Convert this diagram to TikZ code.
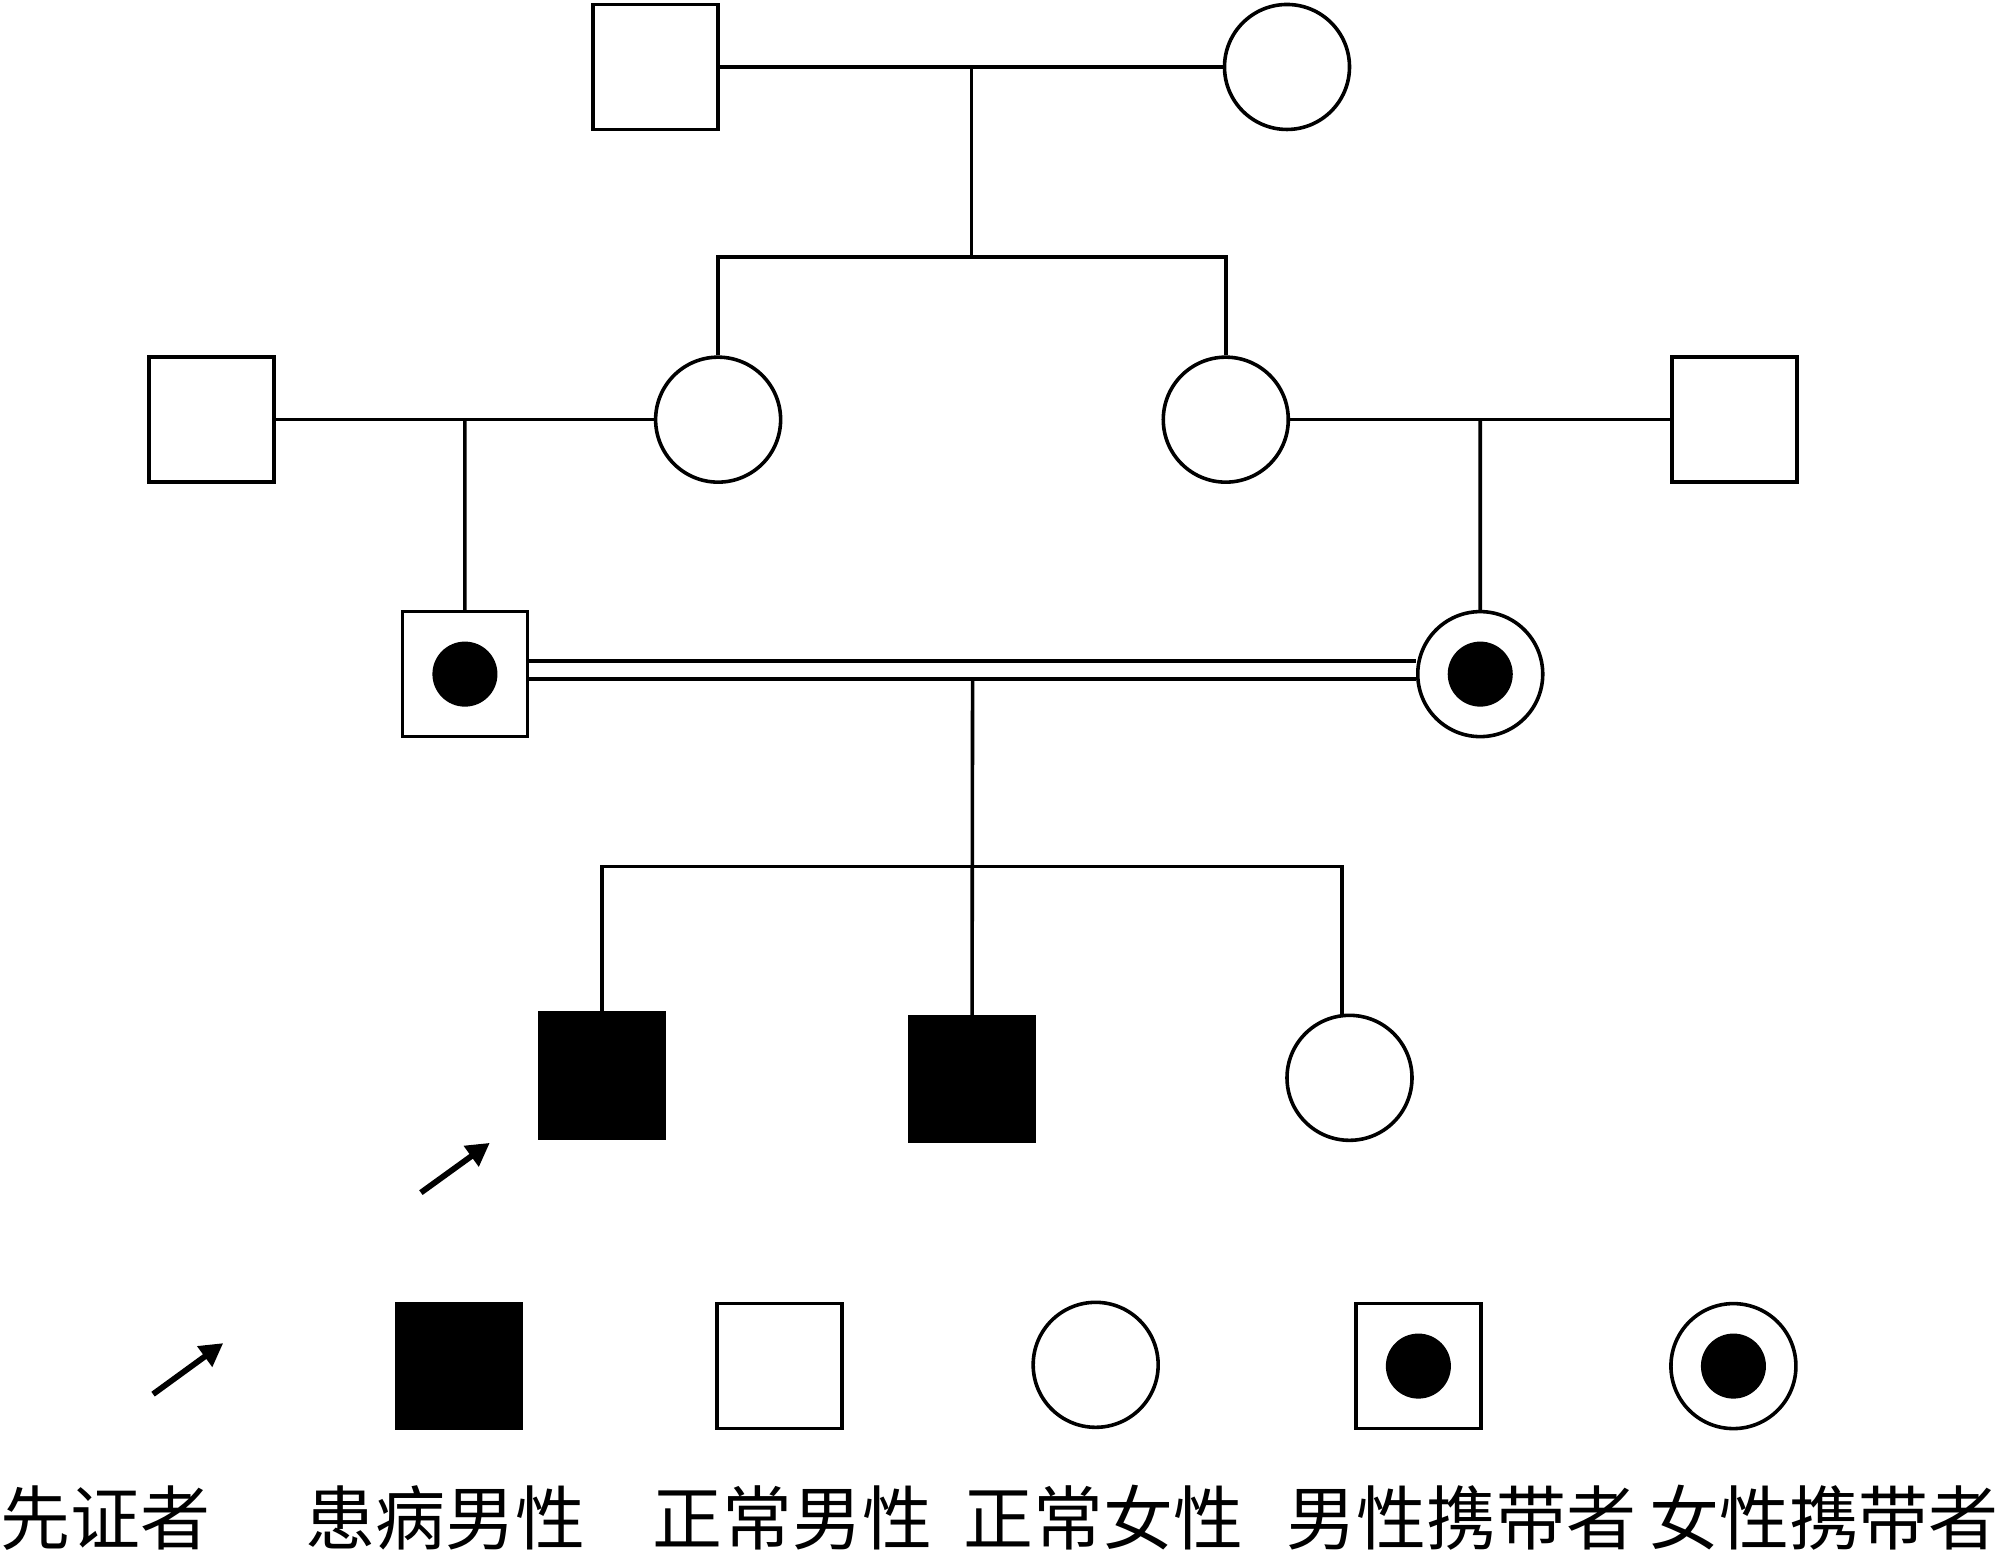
\documentclass[tikz,border=0pt]{standalone}
\usepackage{fontspec}
\newfontfamily\cjk{Noto Sans CJK SC}
\usetikzlibrary{arrows.meta,positioning,calc}

\begin{document}
\begin{tikzpicture}[
  male/.style={draw, rectangle, minimum size=0.98cm, inner sep=0pt, line width=0.8pt},
  female/.style={draw, circle, minimum size=0.98cm, inner sep=0pt, line width=0.8pt},
  aff/.style={fill=black},
  car/.style={path picture={\fill (path picture bounding box.center) circle (0.255);}},
  ln/.style={line width=0.8pt},
  arr/.style={-{Triangle[length=1.8mm, width=1.9mm]}, line width=1.3pt},
  lbl/.style={font=\cjk\fontsize{15.6}{18}\selectfont, inner sep=0pt}]
\useasboundingbox (0,0) rectangle (15.68,-12.18);

% ── generation I ──
\node[male]   (I1) at (5.14,-0.525) {};
\node[female] (I2) at (10.09,-0.525) {};
\draw[ln] (I1) -- (I2);
\coordinate (m1) at ($(I1)!0.5!(I2)$);
\draw[ln] (m1) -- ++(0,-1.49) coordinate (s1);

% ── generation II ──
\node[male]   (II1) at (1.66,-3.29) {};
\node[female] (II2) at (5.63,-3.29) {};
\node[female] (II3) at (9.61,-3.29) {};
\node[male]   (II4) at (13.60,-3.29) {};
\draw[ln] (II2) |- (s1) -| (II3);
\draw[ln] (II1) -- (II2);
\draw[ln] (II3) -- (II4);
\coordinate (m2) at ($(II1)!0.5!(II2)$);
\coordinate (m3) at ($(II3)!0.5!(II4)$);

% ── generation III: consanguineous carriers ──
\node[male, car]   (III1) at (3.645,-5.285) {};
\node[female, car] (III2) at (11.605,-5.285) {};
\draw[ln] (m2) -- (III1);
\draw[ln] (m3) -- (III2);
\draw[ln, double, double distance=0.113cm] (III1.east |- 0,-5.253) -- (III2.west |- 0,-5.253) coordinate[pos=0.5] (m4);
\coordinate (m4b) at ($(m4)+(0,-0.07)$);
\coordinate (s3) at ($(m4b)+(0,-1.47)$);

% ── generation IV ──
\node[male, aff] (IV1) at (4.72,-8.43) {};
\node[male, aff] (IV2) at (7.62,-8.46) {};
\node[female]    (IV3) at (10.58,-8.45) {};
\draw[ln] (m4b) -- (IV2);
\draw[ln] (IV1) |- (s3) -| ([xshift=-0.06cm]IV3.north);
\coordinate (p0) at (3.30,-9.35);
\coordinate (p1) at (3.84,-8.96);
\draw[arr] (p0) -- (p1);

% ── legend ──
\coordinate (k0) at (1.20,-10.93);
\coordinate (k1) at (1.75,-10.53);
\draw[arr] (k0) -- (k1);
\node[male, aff]   (kA) at (3.60,-10.71) {};
\node[male]        (kM) at (6.11,-10.71) {};
\node[female]      (kF) at (8.59,-10.70) {};
\node[male, car]   (kCM) at (11.12,-10.71) {};
\node[female, car] (kCF) at (13.59,-10.71) {};

\node[lbl] (tP)  at (0.83,-11.90) {先证者};
\node[lbl] (tA)  at (3.49,-11.90) {患病男性};
\node[lbl] (tM)  at (6.21,-11.90) {正常男性};
\node[lbl] (tF)  at (8.65,-11.90) {正常女性};
\node[lbl] (tCM) at (11.46,-11.90) {男性携带者};
\node[lbl] (tCF) at (14.30,-11.90) {女性携带者};
\end{tikzpicture}
\end{document}
